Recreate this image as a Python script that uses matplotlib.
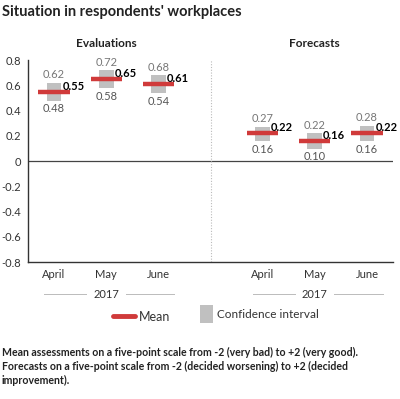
import matplotlib.pyplot as plt
from matplotlib.lines import Line2D
from matplotlib.patches import Rectangle
from matplotlib.ticker import FuncFormatter

plt.rcParams["font.family"] = ["Lato", "DejaVu Sans"]

months = ["April", "May", "June"]
groups = ["Evaluations", "Forecasts"]
year = "2017"

eval_mean = [0.55, 0.65, 0.61]
eval_low = [0.48, 0.58, 0.54]
eval_high = [0.62, 0.72, 0.68]

fc_mean = [0.22, 0.16, 0.22]
fc_low = [0.16, 0.10, 0.16]
fc_high = [0.27, 0.22, 0.28]

RED = "#d03a3a"
GREY = "#c0c0c0"
TEXT = "#333333"

fig = plt.figure(figsize=(4.0, 3.99), dpi=100)
ax = fig.add_axes([0.07, 0.343, 0.9125, 0.506])

pos_eval = [0, 1, 2]
pos_fc = [4, 5, 6]


def draw_group(positions, mean, low, high):
    for x, m, lo, hi in zip(positions, mean, low, high):
        ax.add_patch(Rectangle((x - 0.14, lo), 0.28, hi - lo, color=GREY, lw=0, zorder=2))
        ax.plot([x - 0.3, x + 0.3], [m, m], color=RED, lw=3.2, solid_capstyle="butt", zorder=3)
        ax.annotate(f"{hi:.2f}", (x, hi), xytext=(0, 2), textcoords="offset points",
                    ha="center", va="bottom", fontsize=8, color="#777777")
        ax.annotate(f"{lo:.2f}", (x, lo), xytext=(0, -2), textcoords="offset points",
                    ha="center", va="top", fontsize=8, color="#555555")
        ax.annotate(f"{m:.2f}", (x, m), xytext=(6, 4), textcoords="offset points",
                    ha="left", va="center", fontsize=8, fontweight="bold", color="black", zorder=4)


draw_group(pos_eval, eval_mean, eval_low, eval_high)
draw_group(pos_fc, fc_mean, fc_low, fc_high)

ax.set_xlim(-0.5, 6.5)
ax.set_ylim(-0.8, 0.8)
ax.set_yticks([0.8, 0.6, 0.4, 0.2, 0, -0.2, -0.4, -0.6, -0.8])
ax.yaxis.set_major_formatter(FuncFormatter(lambda v, p: "0" if abs(v) < 1e-9 else f"{v:.1f}"))
ax.set_xticks(pos_eval + pos_fc)
ax.set_xticklabels(months + months)
ax.tick_params(axis="both", length=0, labelsize=8, colors=TEXT)
ax.tick_params(axis="x", pad=5)
ax.tick_params(axis="y", pad=5)

for s in ["top", "right"]:
    ax.spines[s].set_visible(False)
for s in ["left", "bottom"]:
    ax.spines[s].set_color("#333333")
    ax.spines[s].set_linewidth(1.0)

ax.axhline(0, color="#444444", lw=0.9, zorder=1)
ax.axvline(3, color="#bbbbbb", lw=0.8, ls=(0, (1, 1.5)), zorder=1)

# group headings and year brackets
for positions, name in zip([pos_eval, pos_fc], groups):
    c = sum(positions) / len(positions)
    ax.text(c, 1.085, name, transform=ax.get_xaxis_transform(), ha="center", va="center",
            fontsize=8.5, fontweight="bold", color="#222222")
    ax.text(c, -0.158, year, transform=ax.get_xaxis_transform(), ha="center", va="center",
            fontsize=8, color=TEXT)
    for x0, x1 in [(positions[0] - 0.19, c - 0.38), (c + 0.37, positions[-1] + 0.3)]:
        ax.plot([x0, x1], [-0.158, -0.158], transform=ax.get_xaxis_transform(),
                color="#bbbbbb", lw=0.7, clip_on=False)

fig.text(0.005, 0.97, "Situation in respondents' workplaces", ha="left", va="center",
         fontsize=10.5, fontweight="bold", color="#222222")

# legend
fig.add_artist(Line2D([113 / 400, 135 / 400], [1 - 316 / 399] * 2, color=RED, lw=3.5,
                      solid_capstyle="round"))
fig.text(139 / 400, 1 - 317 / 399, "Mean", ha="left", va="center", fontsize=9, color=TEXT)
fig.add_artist(Rectangle((200 / 400, 1 - 323 / 399), 13 / 400, 18 / 399, color=GREY, lw=0))
fig.text(217 / 400, 1 - 315 / 399, "Confidence interval", ha="left", va="center",
         fontsize=8.5, color=TEXT)

fig.text(0.005, 1 - 347 / 399,
         "Mean assessments on a five-point scale from -2 (very bad) to +2 (very good).\n"
         "Forecasts on a five-point scale from -2 (decided worsening) to +2 (decided\n"
         "improvement).",
         ha="left", va="top", fontsize=7.6, fontweight="bold", color="#222222", linespacing=1.35)

fig.savefig("out.png", dpi=100)
